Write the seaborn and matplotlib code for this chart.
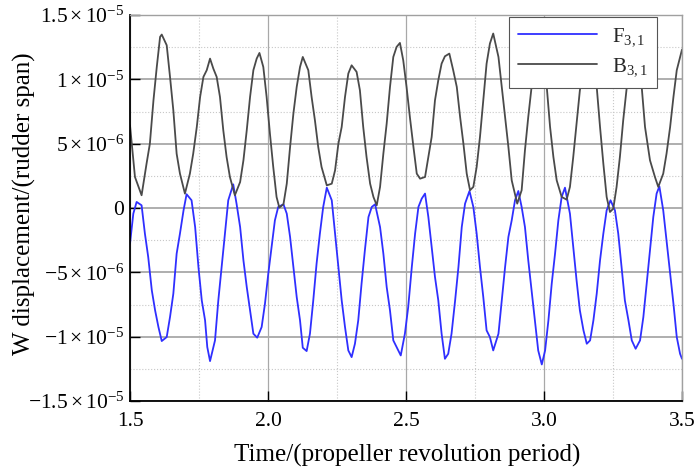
import numpy as np
import pandas as pd
import seaborn as sns
import matplotlib
matplotlib.use("Agg")
import matplotlib.pyplot as plt
from matplotlib.ticker import FuncFormatter, MultipleLocator

# ---- data (displacement values in units of 1e-6) ----
b_time = [1.500, 1.518, 1.542, 1.560, 1.572, 1.585, 1.597, 1.609, 1.615, 1.633, 1.645, 1.657, 1.669, 1.681,
          1.699, 1.717, 1.729, 1.742, 1.754, 1.766, 1.778, 1.790, 1.802, 1.814, 1.826, 1.838, 1.850, 1.862,
          1.880, 1.899, 1.911, 1.923, 1.935, 1.947, 1.959, 1.969, 1.983, 1.995, 2.007, 2.019, 2.031, 2.041,
          2.056, 2.068, 2.080, 2.092, 2.104, 2.116, 2.126, 2.146, 2.158, 2.170, 2.182, 2.194, 2.213, 2.231,
          2.243, 2.255, 2.267, 2.279, 2.291, 2.303, 2.321, 2.333, 2.345, 2.357, 2.370, 2.382, 2.394, 2.406,
          2.418, 2.430, 2.442, 2.454, 2.466, 2.478, 2.490, 2.502, 2.514, 2.527, 2.539, 2.551, 2.569, 2.581,
          2.593, 2.605, 2.617, 2.629, 2.641, 2.657, 2.671, 2.684, 2.696, 2.708, 2.720, 2.732, 2.744, 2.756,
          2.768, 2.780, 2.792, 2.804, 2.816, 2.835, 2.847, 2.859, 2.871, 2.883, 2.903, 2.919, 2.931, 2.943,
          2.955, 2.982, 3.010, 3.022, 3.034, 3.046, 3.064, 3.082, 3.094, 3.106, 3.118, 3.130, 3.160, 3.191,
          3.203, 3.215, 3.227, 3.239, 3.251, 3.263, 3.275, 3.287, 3.300, 3.327, 3.354, 3.366, 3.384, 3.402,
          3.414, 3.432, 3.444, 3.457, 3.469, 3.481, 3.493, 3.500]
b_disp = [6.43, 2.41, 0.99, 3.45, 5.00, 8.37, 10.96, 13.30, 13.48, 12.65, 10.19, 7.59, 4.22, 2.67,
          1.12, 2.67, 4.22, 6.30, 8.63, 10.19, 10.71, 11.61, 10.83, 10.19, 8.63, 6.04, 3.96, 2.41,
          0.99, 2.02, 3.71, 6.04, 8.63, 10.71, 11.61, 12.05, 10.96, 8.63, 5.78, 3.19, 0.86, 0.03,
          0.29, 1.89, 4.74, 7.34, 9.41, 10.96, 11.74, 10.71, 8.63, 6.82, 4.74, 3.19, 1.76, 1.89,
          2.93, 5.00, 6.30, 8.63, 10.45, 11.09, 10.58, 9.15, 6.30, 3.97, 1.89, 0.86, 0.21, 1.64,
          4.23, 6.56, 9.41, 11.74, 12.52, 12.83, 11.48, 9.41, 7.08, 4.74, 2.67, 2.28, 2.41, 3.97,
          5.52, 8.37, 9.93, 11.22, 11.79, 12.00, 10.71, 9.41, 7.08, 5.00, 2.67, 1.38, 1.64, 3.19,
          5.52, 8.37, 11.22, 12.78, 13.56, 11.74, 9.41, 7.08, 4.74, 2.15, 0.34, 1.38, 4.49, 7.08,
          9.41, 12.40, 9.41, 6.30, 3.97, 2.15, 0.86, 0.65, 1.64, 3.97, 6.56, 9.15, 12.30, 9.41,
          6.30, 3.45, 0.86, -0.31, -0.05, 1.64, 3.97, 6.82, 9.41, 12.80, 9.41, 6.30, 3.71, 2.41,
          1.64, 2.67, 4.23, 6.30, 8.63, 10.71, 11.74, 12.31]

f_time = [1.500, 1.512, 1.524, 1.542, 1.554, 1.566, 1.579, 1.591, 1.603, 1.615, 1.633, 1.645, 1.657, 1.669,
          1.681, 1.694, 1.705, 1.723, 1.736, 1.748, 1.760, 1.772, 1.780, 1.790, 1.808, 1.820, 1.832, 1.844,
          1.856, 1.874, 1.886, 1.899, 1.911, 1.923, 1.935, 1.947, 1.961, 1.977, 1.989, 2.001, 2.013, 2.025,
          2.037, 2.056, 2.068, 2.080, 2.092, 2.104, 2.116, 2.126, 2.140, 2.152, 2.164, 2.176, 2.188, 2.200,
          2.213, 2.231, 2.243, 2.255, 2.267, 2.279, 2.291, 2.303, 2.315, 2.327, 2.339, 2.351, 2.364, 2.376,
          2.388, 2.406, 2.418, 2.430, 2.442, 2.454, 2.466, 2.481, 2.496, 2.508, 2.521, 2.533, 2.545, 2.557,
          2.569, 2.581, 2.593, 2.605, 2.617, 2.629, 2.641, 2.653, 2.665, 2.678, 2.690, 2.702, 2.714, 2.730,
          2.744, 2.756, 2.768, 2.780, 2.792, 2.804, 2.816, 2.835, 2.847, 2.859, 2.871, 2.883, 2.895, 2.907,
          2.919, 2.931, 2.943, 2.955, 2.967, 2.979, 2.992, 3.004, 3.016, 3.028, 3.040, 3.052, 3.064, 3.076,
          3.094, 3.106, 3.118, 3.130, 3.143, 3.155, 3.167, 3.179, 3.191, 3.203, 3.215, 3.227, 3.241, 3.257,
          3.269, 3.281, 3.293, 3.306, 3.318, 3.332, 3.348, 3.360, 3.372, 3.384, 3.396, 3.408, 3.418, 3.432,
          3.444, 3.457, 3.469, 3.481, 3.493, 3.500]
f_disp = [-2.77, -0.44, 0.47, 0.21, -1.99, -3.81, -6.40, -7.96, -9.25, -10.34, -10.03, -8.47, -6.66, -3.55,
          -1.99, -0.18, 1.07, 0.60, -1.48, -4.59, -7.18, -8.73, -10.81, -11.90, -10.29, -7.18, -4.59, -1.99,
          0.60, 1.84, 0.34, -1.48, -4.07, -6.14, -7.96, -9.77, -10.08, -9.25, -7.44, -5.11, -3.03, -0.96,
          0.08, 0.29, -0.44, -2.25, -4.59, -6.92, -8.73, -10.86, -11.12, -9.77, -7.18, -4.33, -1.99, 0.08,
          1.58, 0.60, -1.99, -4.59, -7.18, -9.25, -11.07, -11.59, -10.55, -8.73, -5.88, -3.29, -0.70, 0.08,
          0.29, -1.48, -3.55, -6.14, -7.96, -10.29, -10.81, -11.46, -9.77, -7.70, -4.59, -1.99, 0.08, 0.73,
          1.12, -0.70, -3.03, -5.36, -7.18, -9.77, -11.72, -11.33, -9.77, -7.18, -4.59, -1.48, 0.34, 1.32,
          0.08, -1.99, -4.59, -6.92, -9.51, -10.03, -11.07, -9.77, -7.18, -4.59, -2.25, -0.96, 0.60, 1.32,
          0.08, -1.48, -4.07, -6.40, -8.73, -11.07, -12.16, -11.07, -8.73, -5.88, -3.55, -0.96, 0.86, 1.58,
          -0.44, -3.03, -5.62, -7.96, -9.51, -10.55, -10.29, -8.73, -6.66, -4.07, -1.99, -0.18, 0.60, -0.18,
          -1.99, -4.59, -7.18, -8.73, -10.29, -10.94, -10.29, -8.47, -5.88, -3.29, -0.70, 1.12, 1.68, -0.18,
          -2.51, -5.10, -7.44, -10.03, -11.33, -11.72]

series_labels = ["F$_{3,1}$", "B$_{3,1}$"]
series_colors = ["#2f2fff", "#4a4a4a"]
x_ticks = [1.5, 2.0, 2.5, 3.0, 3.5]
y_ticks = [-1.5e-5, -1e-5, -5e-6, 0.0, 5e-6, 1e-5, 1.5e-5]

# ---- build long table ----
df = pd.concat([
    pd.DataFrame({"t": f_time, "w": np.array(f_disp) * 1e-6, "series": series_labels[0]}),
    pd.DataFrame({"t": b_time, "w": np.array(b_disp) * 1e-6, "series": series_labels[1]}),
], ignore_index=True)

sns.set_theme(style="white")
plt.rcParams["font.family"] = ["Liberation Serif", "DejaVu Serif"]
plt.rcParams["mathtext.fontset"] = "custom"
plt.rcParams["mathtext.rm"] = "Liberation Serif"
plt.rcParams["mathtext.it"] = "Liberation Serif:italic"
plt.rcParams["mathtext.default"] = "rm"

fig = plt.figure(figsize=(6.96, 4.71), dpi=100)
ax = fig.add_axes([130 / 696, 1 - 401 / 471, 552 / 696, 386 / 471])

sns.lineplot(data=df, x="t", y="w", hue="series", hue_order=series_labels,
             palette=series_colors, sort=False, estimator=None, linewidth=1.3, ax=ax)

ax.set_xlim(1.5, 3.5)
ax.set_ylim(-1.5e-5, 1.5e-5)
ax.set_xticks(x_ticks)
ax.set_yticks(y_ticks)
ax.xaxis.set_minor_locator(MultipleLocator(0.25))
ax.yaxis.set_minor_locator(MultipleLocator(2.5e-6))


def yfmt(v, pos):
    if abs(v) < 1e-12:
        return "0"
    exp = int(np.floor(np.log10(abs(v)) + 1e-9))
    mant = v / 10 ** exp
    ms = ("%.1f" % abs(mant)).rstrip("0").rstrip(".")
    sign = "-" if v < 0 else ""
    return r"$%s%s\times10^{%d}$" % (sign, ms, exp)


ax.yaxis.set_major_formatter(FuncFormatter(yfmt))
ax.xaxis.set_major_formatter(FuncFormatter(lambda v, p: "%.1f" % v))

ax.grid(which="major", axis="y", color="#a8a8a8", linewidth=1.3, linestyle="-")
ax.grid(which="major", axis="x", color="#a8a8a8", linewidth=0.9, linestyle="-")
ax.grid(which="minor", color="#c8c8c8", linewidth=0.8, linestyle=":")
ax.set_axisbelow(True)

for side in ["left", "bottom"]:
    ax.spines[side].set_color("black")
    ax.spines[side].set_linewidth(1.3)
for side in ["top", "right"]:
    ax.spines[side].set_color("#a0a0a0")
    ax.spines[side].set_linewidth(1.0)

ax.tick_params(which="major", direction="in", length=7, width=1.0, color="black",
               labelsize=15.5, labelcolor="black", left=True, bottom=True, top=False, right=False)
ax.tick_params(axis="y", pad=4)
ax.tick_params(axis="x", pad=8)
ax.tick_params(which="minor", length=0)

ax.set_xlabel("Time/(propeller revolution period)", fontsize=18, color="black")
ax.set_ylabel("W displacement/(rudder span)", fontsize=18, color="black")
ax.xaxis.set_label_coords(0.502, -0.112)
ax.yaxis.set_label_coords(-0.17, 0.51)

leg = ax.legend(loc="upper right", bbox_to_anchor=(0.9547, 0.9948), borderaxespad=0,
                fontsize=15, frameon=True, fancybox=False, framealpha=1, edgecolor="#555555",
                handlelength=3.8, handletextpad=0.7, borderpad=0.45, labelspacing=0.4, title=None)
leg.get_frame().set_linewidth(0.8)

fig.savefig("out.png", dpi=100)
